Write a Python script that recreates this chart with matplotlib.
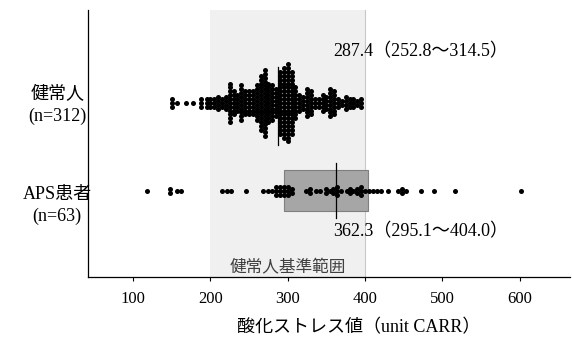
import numpy as np
import matplotlib
matplotlib.use("Agg")
import matplotlib.pyplot as plt
from matplotlib.patches import Rectangle

plt.rcParams['font.family'] = ['Liberation Serif', 'Noto Sans CJK JP']

# dot columns: value -> number of stacked dots
healthy_vals = [150, 157, 168, 178, 188, 195, 200, 205, 210, 215, 220, 225, 230, 235,
                240, 245, 250, 255, 260, 265, 270, 275, 280, 285, 290, 295, 300, 305,
                310, 315, 320, 325, 330, 335, 340, 345, 350, 355, 360, 365, 370, 375,
                380, 385, 390, 395]
healthy_counts = [3, 1, 1, 1, 3, 3, 3, 3, 4, 3, 4, 11, 7, 5,
                  10, 7, 7, 7, 10, 15, 18, 11, 10, 8, 17, 19, 21, 17,
                  9, 5, 4, 8, 7, 3, 3, 5, 4, 8, 7, 3, 2, 4,
                  3, 3, 2, 3]

aps_vals = [118, 148, 157, 162, 215, 221, 226, 246, 268, 274, 280, 285, 290, 295,
            300, 305, 323, 329, 336, 342, 349, 354, 359, 364, 369, 376, 381, 385,
            390, 395, 400, 405, 410, 415, 420, 429, 443, 448, 453, 472, 489, 516, 601]
aps_counts = [1, 2, 1, 1, 1, 1, 1, 1, 1, 1, 1, 3, 3, 3,
              3, 2, 1, 2, 1, 1, 2, 1, 2, 3, 1, 1, 2, 1,
              2, 3, 1, 1, 1, 1, 1, 1, 1, 2, 1, 1, 1, 1, 1]

groups = ['健常人\n(n=312)', 'APS患者\n(n=63)']
medians = [287.4, 362.3]
q1 = [252.8, 295.1]
q3 = [314.5, 404.0]
ref_range = (200, 400)


def stack_points(vals, counts, ypos, dy=0.044):
    xs, ys = [], []
    for v, n in zip(vals, counts):
        for k in range(n):
            xs.append(v)
            ys.append(ypos + (k - (n - 1) / 2) * dy)
    return xs, ys


fig = plt.figure(figsize=(5.72, 3.39), dpi=100)
ax = fig.add_axes([88 / 572, 1 - 277 / 339, 482 / 572, 267 / 339])

ax.axvspan(ref_range[0], ref_range[1], color='#f0f0f0', lw=0, zorder=0)
ax.axvline(ref_range[1], color='#c8c8c8', lw=0.8, zorder=0.5)
ax.text(sum(ref_range) / 2, -0.88, '健常人基準範囲', ha='center', va='center',
        fontsize=12, color='#404040')

# APS box
ax.add_patch(Rectangle((q1[1], -0.23), q3[1] - q1[1], 0.46,
                       facecolor='#a6a6a6', edgecolor='#7f7f7f', lw=0.8, zorder=1))

hx, hy = stack_points(healthy_vals, healthy_counts, 1)
ax.scatter(hx, hy, s=13, color='black', lw=0, zorder=2)
axp, ayp = stack_points(aps_vals, aps_counts, 0)
ax.scatter(axp, ayp, s=13, color='black', lw=0, zorder=2)

ax.plot([medians[0], medians[0]], [0.52, 1.41], color='black', lw=0.9, zorder=3)
ax.plot([medians[1], medians[1]], [-0.31, 0.31], color='black', lw=0.9, zorder=3)

ax.text(359, 1.58, f'{medians[0]}（{q1[0]}〜{q3[0]}）', fontsize=13, va='center')
ax.text(359, -0.47, f'{medians[1]}（{q1[1]}〜{q3[1]}）', fontsize=13, va='center')

ax.text(-0.064, 0.97, groups[0], transform=ax.get_yaxis_transform(), ha='center',
        va='center', fontsize=13, linespacing=1.3)
ax.text(-0.064, -0.17, groups[1], transform=ax.get_yaxis_transform(), ha='center',
        va='center', fontsize=13, linespacing=1.3)

ax.set_xlim(41.7, 665)
ax.set_ylim(-0.983, 2.057)
ax.set_xticks([100, 200, 300, 400, 500, 600])
ax.set_yticks([])
ax.tick_params(axis='x', direction='out', length=3, width=0.8, pad=7, labelsize=12)
for s in ['top', 'right']:
    ax.spines[s].set_visible(False)
ax.spines['left'].set_linewidth(0.9)
ax.spines['bottom'].set_linewidth(0.9)

fig.text(359 / 572, 1 - 328 / 339, '酸化ストレス値（unit CARR）', ha='center', va='center',
         fontsize=13)

fig.savefig('out.png', dpi=100)
